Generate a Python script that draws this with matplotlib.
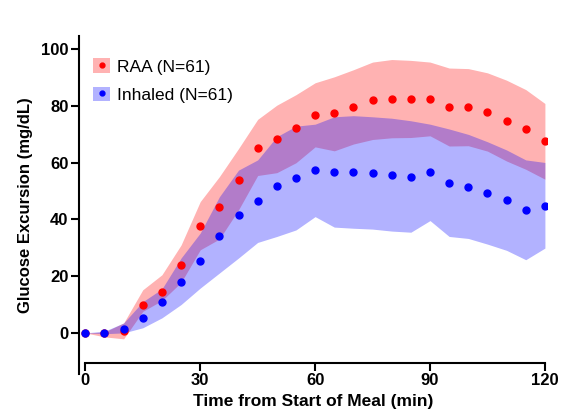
import numpy as np
import matplotlib.pyplot as plt
from matplotlib.patches import Patch
from matplotlib.lines import Line2D

plt.rcParams["font.family"] = ["Liberation Sans", "DejaVu Sans"]

times = np.arange(0, 125, 5)

raa_mean = [0, -0.2, 0.6, 10.0, 14.4, 23.8, 37.7, 44.3, 53.9, 65.3, 68.5, 72.2, 76.9,
            77.4, 79.7, 82.1, 82.5, 82.5, 82.6, 79.7, 79.7, 77.8, 74.7, 71.9, 67.5]
raa_upper = [0, 0.3, 3.5, 15.2, 20.5, 31.0, 46.3, 55.1, 65.0, 75.3, 80.3, 84.0, 88.2,
             90.3, 92.8, 95.5, 96.4, 96.1, 95.5, 93.4, 93.2, 91.7, 89.1, 85.8, 80.9]
raa_lower = [0, -1.4, -2.1, 7.6, 11.4, 17.8, 29.3, 33.1, 43.4, 55.5, 56.5, 60.0, 65.6,
             64.2, 66.6, 68.2, 68.8, 68.9, 69.5, 65.9, 66.0, 64.1, 60.6, 57.7, 54.2]

inh_mean = [0, -0.1, 1.4, 5.3, 10.9, 17.9, 25.2, 34.2, 41.6, 46.4, 51.9, 54.5, 57.3,
            56.9, 56.7, 56.3, 55.7, 55.1, 56.6, 52.9, 51.6, 49.2, 46.9, 43.3, 44.9]
inh_upper = [0, 0.6, 3.5, 11.0, 15.5, 26.4, 35.2, 48.0, 57.4, 61.0, 69.2, 72.9, 73.6,
             76.2, 76.6, 76.2, 75.7, 74.8, 73.6, 71.9, 70.0, 67.4, 64.5, 61.0, 60.1]
inh_lower = [0, -0.3, 0, 1.8, 5.3, 10.0, 15.8, 21.1, 26.4, 31.9, 34.0, 36.3, 41.0,
             37.3, 36.9, 36.6, 35.9, 35.5, 39.6, 34.0, 33.3, 31.3, 29.1, 25.8, 29.9]

fig = plt.figure(figsize=(5.62, 4.17), dpi=100)
ax = fig.add_axes([0.1406, 0.1031, 0.8324, 0.8106])

ax.fill_between(times, raa_lower, raa_upper, color="red", alpha=0.3, linewidth=0)
ax.plot(times, raa_mean, "o", color="red", markersize=5)
ax.fill_between(times, inh_lower, inh_upper, color="blue", alpha=0.3, linewidth=0)
ax.plot(times, inh_mean, "o", color="blue", markersize=5)

ax.set_xlim(-1.65, 120.5)
ax.set_ylim(-14.5, 104.7)
ax.set_xticks([0, 30, 60, 90, 120])
ax.set_yticks([0, 20, 40, 60, 80, 100])

ax.spines["top"].set_visible(False)
ax.spines["right"].set_visible(False)
ax.spines["bottom"].set_position(("data", -10.5))
ax.spines["bottom"].set_bounds(0, 120)
for s in ("left", "bottom"):
    ax.spines[s].set_linewidth(1.5)
ax.tick_params(direction="out", width=1.5, length=5.5, labelsize=12, pad=2)
for lab in ax.get_xticklabels() + ax.get_yticklabels():
    lab.set_fontweight("bold")

ax.set_xlabel("Time from Start of Meal (min)", fontsize=12.5, fontweight="bold", labelpad=4)
ax.set_ylabel("Glucose Excursion (mg/dL)", fontsize=12, fontweight="bold", labelpad=6)

handles = [
    (Patch(facecolor="red", alpha=0.3, linewidth=0),
     Line2D([], [], marker="o", color="red", linestyle="none", markersize=3.5)),
    (Patch(facecolor="blue", alpha=0.3, linewidth=0),
     Line2D([], [], marker="o", color="blue", linestyle="none", markersize=3.5)),
]
ax.legend(handles, ["RAA (N=61)", "Inhaled (N=61)"], loc="upper left",
          bbox_to_anchor=(0.0, 0.975), frameon=False, fontsize=12.5,
          handlelength=1.0, handleheight=0.9, handletextpad=0.4, labelspacing=0.7,
          borderaxespad=0.4)

fig.savefig("out.png", dpi=100)
